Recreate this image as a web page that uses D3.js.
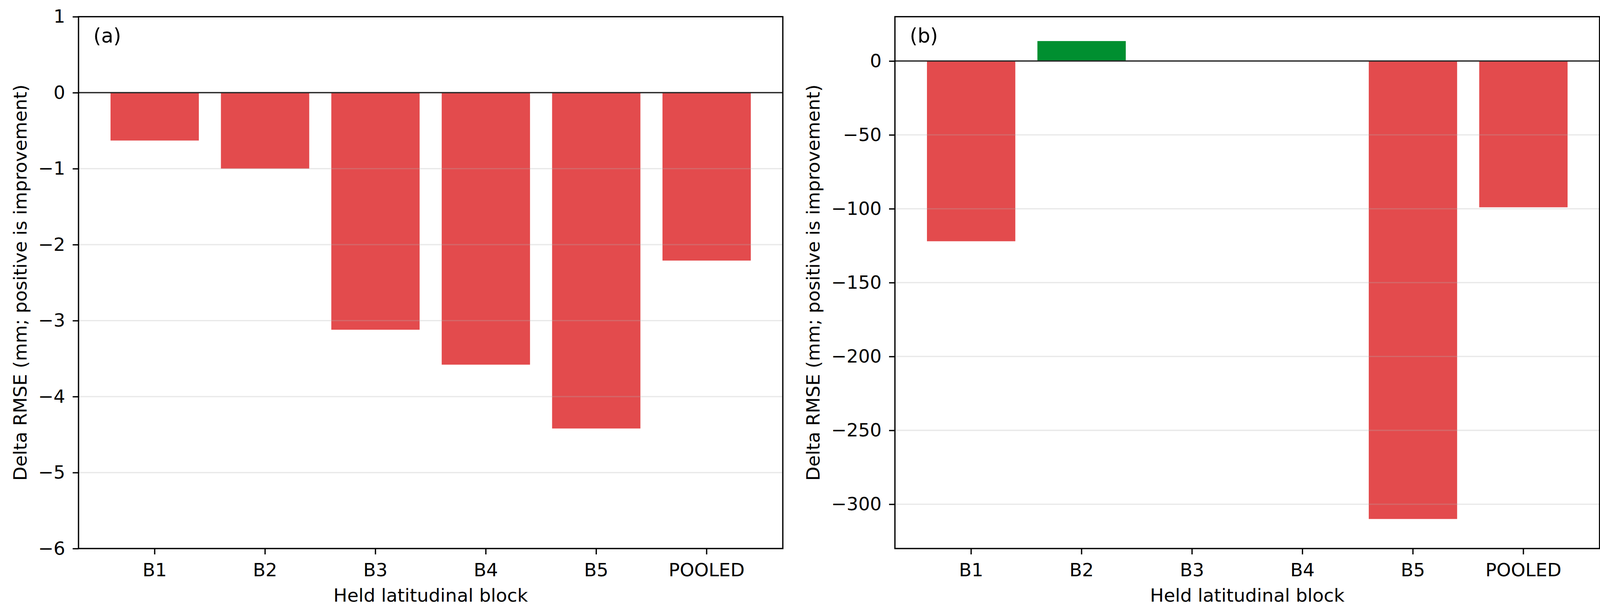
<!DOCTYPE html>
<html>
<head>
<meta charset="utf-8">
<script src="https://cdn.jsdelivr.net/npm/d3@7"></script>
<style>
  html, body { margin: 0; padding: 0; background: #fff; }
  svg { display: block; font-family: "DejaVu Sans", sans-serif; }
</style>
</head>
<body>
<div id="chart"></div>
<script>
// 横轴类别
const blocks = ["B1", "B2", "B3", "B4", "B5", "POOLED"];

// (a) 与 (b) 的 Delta RMSE 数值
const deltaA = [-0.63, -1.00, -3.12, -3.58, -4.42, -2.21];
const deltaB = [-122, 13.5, 0, 0, -310, -99];

// 纵轴范围与刻度
const domainA = [-6, 1];
const domainB = [-330, 30];
const ticksA = [1, 0, -1, -2, -3, -4, -5, -6];
const ticksB = [0, -50, -100, -150, -200, -250, -300];

const panelLabels = ["(a)", "(b)"];
const yLabel = "Delta RMSE (mm; positive is improvement)";
const xLabel = "Held latitudinal block";

const W = 4120, H = 1569;
const FONT = 47;
const LW = 3.3;
const RED = "#e34b4d", GREEN = "#008f30";

const svg = d3.select("#chart").append("svg")
    .attr("width", W).attr("height", H);
svg.append("rect").attr("width", W).attr("height", H).attr("fill", "#fff");

const panels = [
    { left: 201, right: 2004, values: deltaA, domain: domainA, ticks: ticksA, label: panelLabels[0] },
    { left: 2291, right: 4095, values: deltaB, domain: domainB, ticks: ticksB, label: panelLabels[1] }
];
const plotTop = 42.7, plotBottom = 1404;

function drawPanel(p) {
    const w = p.right - p.left, h = plotBottom - plotTop;
    const g = svg.append("g").attr("transform", `translate(${p.left},${plotTop})`);

    const x = d3.scaleBand().domain(blocks).range([0, w])
        .paddingInner(0.2).paddingOuter(0.29);
    const y = d3.scaleLinear().domain(p.domain).range([h, 0]);

    const data = blocks.map((b, i) => ({ block: b, value: p.values[i] }));

    // 柱子
    g.selectAll(".bar").data(data).join("rect")
        .attr("class", "bar")
        .attr("x", d => x(d.block))
        .attr("width", x.bandwidth())
        .attr("y", d => y(Math.max(0, d.value)))
        .attr("height", d => Math.abs(y(d.value) - y(0)))
        .attr("fill", d => d.value >= 0 ? GREEN : RED);

    // 网格线 (matplotlib 默认在柱子之上)
    g.selectAll(".grid").data(p.ticks).join("line")
        .attr("class", "grid")
        .attr("x1", 0).attr("x2", w)
        .attr("y1", d => y(d)).attr("y2", d => y(d))
        .attr("stroke", "#b0b0b0").attr("stroke-opacity", 0.28)
        .attr("stroke-width", LW);

    // 零线
    g.append("line")
        .attr("x1", 0).attr("x2", w)
        .attr("y1", y(0)).attr("y2", y(0))
        .attr("stroke", "#222").attr("stroke-width", LW);

    // 坐标轴
    const yAxis = g.append("g")
        .call(d3.axisLeft(y).tickValues(p.ticks).tickSize(15).tickPadding(19).tickFormat(d3.format("d")));
    const xAxis = g.append("g").attr("transform", `translate(0,${h})`)
        .call(d3.axisBottom(x).tickSize(15).tickPadding(23));
    [yAxis, xAxis].forEach(a => {
        a.select(".domain").remove();
        a.selectAll(".tick line").attr("stroke", "#000").attr("stroke-width", LW);
        a.selectAll(".tick text").attr("fill", "#000")
            .style("font-size", FONT + "px").style("font-family", "DejaVu Sans");
    });

    // 边框
    g.append("rect").attr("width", w).attr("height", h)
        .attr("fill", "none").attr("stroke", "#000").attr("stroke-width", LW);

    // 轴标题
    const yb = yAxis.node().getBBox();
    g.append("text")
        .attr("transform", `translate(${yb.x - 30},${h / 2}) rotate(-90)`)
        .attr("text-anchor", "middle")
        .style("font-size", FONT + "px")
        .text(yLabel);
    g.append("text")
        .attr("x", w / 2).attr("y", 1540 - plotTop)
        .attr("text-anchor", "middle")
        .style("font-size", FONT + "px")
        .text(xLabel);

    // 面板标记
    g.append("text")
        .attr("x", 38).attr("y", 109 - plotTop)
        .style("font-size", "51px")
        .text(p.label);
}

panels.forEach(drawPanel);
</script>
</body>
</html>
